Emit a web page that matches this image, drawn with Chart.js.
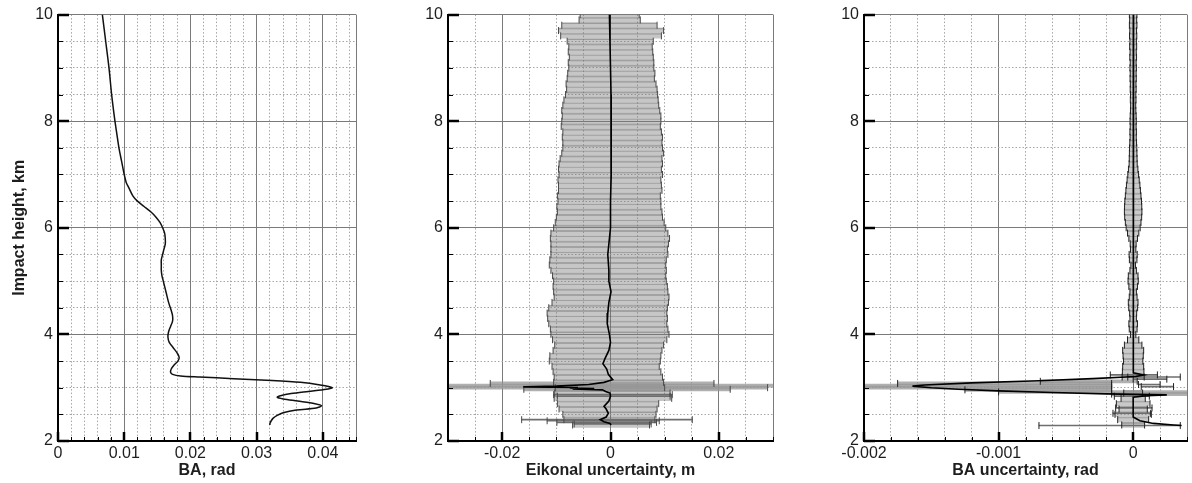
<!DOCTYPE html>
<html><head><meta charset="utf-8">
<script src="https://cdn.jsdelivr.net/npm/chart.js@4.4.1/dist/chart.umd.min.js"></script>
<style>
html,body{margin:0;padding:0;background:#fff;}
#wrap{position:relative;width:1192px;height:483px;overflow:hidden;background:#fff;}
canvas{position:absolute;top:0;}
</style></head><body>
<div id="wrap">
<canvas id="c1" width="370" height="483" style="left:0px"></canvas>
<canvas id="c2" width="410" height="483" style="left:370px"></canvas>
<canvas id="c3" width="412" height="483" style="left:780px"></canvas>
</div>
<script>
// ---------- Panel 1: bending angle profile ----------
const baH = [10.0, 9.5, 9.0, 8.5, 8.0, 7.75, 7.5, 7.25, 7.0, 6.85, 6.75, 6.6, 6.5, 6.4, 6.3, 6.2, 6.1, 6.0, 5.9, 5.8, 5.7, 5.6, 5.5, 5.4, 5.3, 5.2, 5.1, 5.0, 4.8, 4.6, 4.45, 4.35, 4.25, 4.15, 4.05, 3.95, 3.85, 3.75, 3.65, 3.57, 3.5, 3.42, 3.35, 3.29, 3.25, 3.22, 3.20, 3.17, 3.14, 3.10, 3.05, 3.00, 2.97, 2.93, 2.89, 2.85, 2.82, 2.79, 2.75, 2.70, 2.66, 2.62, 2.58, 2.53, 2.48, 2.43, 2.38, 2.33, 2.30];
const baV = [0.0067, 0.0072, 0.0077, 0.0081, 0.0086, 0.0089, 0.0092, 0.0096, 0.0100, 0.0103, 0.0107, 0.0113, 0.0120, 0.0130, 0.0140, 0.0148, 0.0154, 0.0158, 0.0161, 0.0162, 0.0162, 0.0160, 0.0158, 0.0156, 0.0156, 0.0156, 0.0157, 0.0159, 0.0163, 0.0167, 0.0171, 0.0173, 0.0173, 0.0170, 0.0167, 0.0166, 0.0168, 0.0174, 0.0180, 0.0183, 0.0181, 0.0175, 0.0171, 0.0170, 0.0173, 0.0185, 0.0214, 0.0265, 0.0315, 0.0366, 0.0396, 0.0414, 0.0405, 0.0378, 0.0352, 0.0336, 0.0331, 0.0340, 0.0362, 0.0388, 0.0398, 0.0390, 0.0360, 0.0340, 0.0331, 0.0325, 0.0322, 0.0320, 0.0320];

// ---------- shared heights of the error-bar rows (km) ----------
const hgt = [10.0, 9.9, 9.8, 9.7, 9.6, 9.5, 9.4, 9.3, 9.2, 9.1,
  9.0, 8.9, 8.8, 8.7, 8.6, 8.5, 8.4, 8.3, 8.2, 8.1,
  8.0, 7.9, 7.8, 7.7, 7.6, 7.5, 7.4, 7.3, 7.2, 7.1,
  7.0, 6.9, 6.8, 6.7, 6.6, 6.5, 6.4, 6.3, 6.2, 6.1,
  6.0, 5.9, 5.8, 5.7, 5.6, 5.5, 5.4, 5.3, 5.2, 5.1,
  5.0, 4.9, 4.8, 4.7, 4.6, 4.5, 4.4, 4.3, 4.2, 4.1,
  4.0, 3.9, 3.8, 3.7, 3.6, 3.5, 3.4, 3.3, 3.2, 3.1,
  3.0, 2.9, 2.8, 2.7, 2.6, 2.5, 2.4, 2.3];

// ---------- Panel 2: eikonal uncertainty ----------
const p2Lo = [-0.0056, -0.0058, -0.0090, -0.0096, -0.0092, -0.0080, -0.0077, -0.0078, -0.0076, -0.0078,
  -0.0077, -0.0079, -0.0080, -0.0082, -0.0081, -0.0083, -0.0086, -0.0088, -0.0090, -0.0089,
  -0.0090, -0.0091, -0.0088, -0.0089, -0.0088, -0.0088, -0.0090, -0.0093, -0.0095, -0.0096,
  -0.0095, -0.0097, -0.0096, -0.0096, -0.0098, -0.0097, -0.0099, -0.0098, -0.0100, -0.0102,
  -0.0105, -0.0110, -0.0111, -0.0110, -0.0110, -0.0110, -0.0112, -0.0113, -0.0110, -0.0107,
  -0.0105, -0.0106, -0.0105, -0.0104, -0.0108, -0.0114, -0.0117, -0.0116, -0.0114, -0.0111,
  -0.0110, -0.0107, -0.0103, -0.0106, -0.0112, -0.0113, -0.0108, -0.0106, -0.0104, -0.0105,
  -0.0102, -0.0103, -0.0104, -0.0098, -0.0095, -0.0088, -0.0086, -0.0070];
const p2Hi = [0.0053, 0.0055, 0.0086, 0.0098, 0.0094, 0.0079, 0.0077, 0.0078, 0.0079, 0.0080,
  0.0080, 0.0082, 0.0081, 0.0084, 0.0086, 0.0087, 0.0088, 0.0089, 0.0091, 0.0093,
  0.0093, 0.0092, 0.0094, 0.0096, 0.0095, 0.0096, 0.0098, 0.0095, 0.0096, 0.0094,
  0.0096, 0.0093, 0.0094, 0.0095, 0.0092, 0.0093, 0.0093, 0.0095, 0.0096, 0.0099,
  0.0102, 0.0106, 0.0109, 0.0107, 0.0105, 0.0106, 0.0103, 0.0102, 0.0103, 0.0102,
  0.0103, 0.0105, 0.0106, 0.0108, 0.0107, 0.0105, 0.0104, 0.0105, 0.0104, 0.0106,
  0.0108, 0.0104, 0.0098, 0.0095, 0.0093, 0.0092, 0.0090, 0.0093, 0.0096, 0.0098,
  0.0100, 0.0110, 0.0113, 0.0089, 0.0086, 0.0084, 0.0082, 0.0072];
const p2WideH = [3.08, 3.04, 3.00, 2.97];
const p2WideLo = [-0.0222, -0.0300, -0.0300, -0.0160];
const p2WideHi = [0.0191, 0.0300, 0.0290, 0.0221];
const p2ThinH = [2.87, 2.84, 2.40, 2.38, 2.35, 2.32];
const p2ThinLo = [-0.0105, -0.0098, -0.0164, -0.0117, -0.0099, -0.0067];
const p2ThinHi = [0.0114, 0.0110, 0.0151, 0.0090, 0.0085, 0.0075];
const p2MeanH = [10.0, 9.5, 9.0, 8.5, 8.0, 7.5, 7.0, 6.5, 6.0, 5.7, 5.5, 5.2, 5.0, 4.8, 4.6, 4.4, 4.2, 4.0, 3.85, 3.7, 3.55, 3.45, 3.35, 3.25, 3.15, 3.10, 3.06, 3.03, 3.015, 3.005, 2.995, 2.985, 2.975, 2.96, 2.93, 2.90, 2.84, 2.75, 2.65, 2.60, 2.52, 2.45, 2.40, 2.36, 2.33, 2.30];
const p2MeanV = [-0.0002, -0.0001, 0.0000, 0.0001, 0.0002, 0.0001, 0.0001, 0.0000, 0.0000, -0.0003, -0.0005, -0.0003, -0.0003, 0.0001, -0.0003, -0.0005, -0.0006, -0.0002, 0.0000, -0.0003, -0.0010, -0.0014, -0.0007, -0.0004, 0.0004, -0.0012, -0.0040, -0.0100, -0.0161, -0.0060, -0.0075, -0.0030, -0.0070, -0.0015, -0.0009, -0.0001, 0.0000, -0.0003, -0.0012, -0.0008, -0.0004, -0.0008, -0.0019, -0.0012, -0.0001, 0.0001];

// ---------- Panel 3: BA uncertainty ----------
const p3Lo = [-0.000028, -0.000026, -0.000028, -0.000025, -0.000027, -0.000024, -0.000026, -0.000023, -0.000025, -0.000022,
  -0.000024, -0.000022, -0.000023, -0.000021, -0.000022, -0.000020, -0.000021, -0.000019, -0.000020, -0.000022,
  -0.000023, -0.000022, -0.000024, -0.000023, -0.000025, -0.000027, -0.000028, -0.000029, -0.000030, -0.000035,
  -0.000040, -0.000045, -0.000050, -0.000054, -0.000058, -0.000062, -0.000064, -0.000065, -0.000063, -0.000058,
  -0.000052, -0.000042, -0.000032, -0.000022, -0.000020, -0.000030, -0.000028, -0.000017, -0.000024, -0.000036,
  -0.000038, -0.000032, -0.000024, -0.000029, -0.000036, -0.000033, -0.000026, -0.000024, -0.000032, -0.000029,
  -0.000020, -0.000042, -0.000065, -0.000078, -0.000075, -0.000072, -0.000078, -0.000080, -0.000082, null,
  null, -0.000070, -0.000090, -0.000125, -0.000105, -0.000135, -0.000115, -0.000085];
const p3Hi = [0.000028, 0.000026, 0.000028, 0.000025, 0.000027, 0.000024, 0.000026, 0.000023, 0.000025, 0.000022,
  0.000024, 0.000022, 0.000023, 0.000021, 0.000022, 0.000020, 0.000021, 0.000019, 0.000020, 0.000022,
  0.000023, 0.000022, 0.000024, 0.000023, 0.000025, 0.000027, 0.000028, 0.000029, 0.000030, 0.000035,
  0.000040, 0.000045, 0.000050, 0.000054, 0.000058, 0.000062, 0.000064, 0.000065, 0.000063, 0.000058,
  0.000052, 0.000042, 0.000032, 0.000022, 0.000020, 0.000030, 0.000028, 0.000017, 0.000024, 0.000036,
  0.000038, 0.000032, 0.000024, 0.000029, 0.000036, 0.000033, 0.000026, 0.000024, 0.000032, 0.000029,
  0.000020, 0.000042, 0.000065, 0.000078, 0.000075, 0.000072, 0.000078, 0.000080, 0.000082, null,
  null, 0.000070, 0.000090, 0.000125, 0.000105, 0.000135, 0.000115, 0.000085];
const p3WideH = [3.12, 3.08, 3.04, 3.00, 2.96, 2.92, 2.88];
const p3WideLo = [-0.00069, -0.00175, -0.00200, -0.00200, -0.00125, -0.00100, -0.00016];
const p3WideHi = [0.00003, -0.00016, -0.00016, -0.00016, -0.00016, 0.00040, 0.00040];
const p3ThinH = [3.24, 3.20, 3.16, 3.06, 3.02, 2.84, 2.62, 2.52, 2.29];
const p3ThinLo = [-0.00017, -0.00004, 0.00000, 0.00004, 0.00006, -0.00014, -0.00013, -0.00015, -0.00070];
const p3ThinHi = [0.00018, 0.00035, 0.00025, 0.00020, 0.00030, 0.00012, 0.00014, 0.00013, 0.00035];
const p3MeanH = [10.0, 9.0, 8.0, 7.0, 6.0, 5.0, 4.0, 3.5, 3.28, 3.24, 3.21, 3.17, 3.13, 3.09, 3.05, 3.03, 3.0, 2.97, 2.94, 2.91, 2.885, 2.865, 2.85, 2.82, 2.7, 2.55, 2.45, 2.38, 2.33, 2.30, 2.29];
const p3MeanV = [0.000003, 0.0, 0.000003, 0.0, 0.000003, 0.0, 0.000003, 0.0, 0.0, 0.00008, 0.00002, -0.0003, -0.0007, -0.0012, -0.00155, -0.00164, -0.0015, -0.0013, -0.0010, -0.0006, -0.0002, 0.00025, 0.0001, 0.0, 0.0, 0.0, 0.0, 0.00005, 0.00015, 0.0003, 0.00036];

// ---------- tick labels ----------
const yMajor = [2, 4, 6, 8, 10];
const yLabels = ['2', '4', '6', '8', '10'];
const x1Major = [0, 0.01, 0.02, 0.03, 0.04];
const x1Labels = ['0', '0.01', '0.02', '0.03', '0.04'];
const x2Major = [-0.02, 0, 0.02];
const x2Labels = ['-0.02', '0', '0.02'];
const x3Major = [-0.002, -0.001, 0];
const x3Labels = ['-0.002', '-0.001', '0'];

// ---------- helpers ----------
const FONT = "'Liberation Sans', Arial, Helvetica, sans-serif";
const TXT = '#1e1e1e';
function near(v, arr) { return arr.findIndex(t => Math.abs(v - t) < 1e-9); }
function makeTicks(min, max, step) {
  const out = [];
  for (let i = 0; ; i++) {
    const v = +(min + i * step).toFixed(10);
    if (v > max + 1e-12) break;
    out.push({ value: v });
  }
  if (Math.abs(out[out.length - 1].value - max) > 1e-12) out.push({ value: max });
  return out;
}
function gridStyle(min, max, majors) {
  const solid = c => c.tick && (near(c.tick.value, majors) >= 0 || Math.abs(c.tick.value - max) < 1e-12 || Math.abs(c.tick.value - min) < 1e-12);
  return {
    color: c => solid(c) ? '#7a7a7a' : '#a6a6a6',
    dash: c => (!c.tick || solid(c)) ? [] : [1.5, 2]
  };
}
function xAxis(min, max, step, majors, labels, title) {
  const g = gridStyle(min, max, majors);
  return {
    type: 'linear', position: 'bottom', min, max, stacked: false, offset: false,
    afterBuildTicks: s => { s.ticks = makeTicks(min, max, step); },
    afterFit: s => { s.height = 42; },
    grid: { drawTicks: false, color: g.color, lineWidth: 1, offset: false },
    border: { display: true, color: '#000', width: 2, z: 1, dash: g.dash },
    ticks: { autoSkip: false, maxRotation: 0, minRotation: 0, padding: 3, color: TXT, font: { family: FONT, size: 16 },
      callback: v => { const i = near(v, majors); return i >= 0 ? labels[i] : ''; } },
    title: { display: true, text: title, color: TXT, font: { family: FONT, size: 16, weight: 'bold' }, padding: { top: 0, bottom: 3 } }
  };
}
function yAxis(width, title) {
  const g = gridStyle(2, 10, yMajor);
  return {
    type: 'linear', position: 'left', min: 2, max: 10, offset: false,
    afterBuildTicks: s => { s.ticks = makeTicks(2, 10, 0.5); },
    afterFit: s => { s.width = width; },
    grid: { drawTicks: false, color: g.color, lineWidth: 1, offset: false },
    border: { display: true, color: '#000', width: 2, z: 1, dash: g.dash },
    ticks: { autoSkip: false, padding: 5, color: TXT, font: { family: FONT, size: 16 },
      callback: v => { const i = near(v, yMajor); return i >= 0 ? yLabels[i] : ''; } },
    title: { display: !!title, text: title || '', color: TXT, font: { family: FONT, size: 16, weight: 'bold' }, padding: { top: 10, bottom: 0 } }
  };
}
function inwardTicks(xMaj) {
  return {
    id: 'inwardTicks',
    afterDraw(chart) {
      const { ctx, chartArea: a } = chart;
      const xs = chart.scales.x, ys = chart.scales.y;
      ctx.save();
      ctx.strokeStyle = '#000';
      ctx.lineCap = 'butt';
      xs.ticks.forEach(t => {
        const major = near(t.value, xMaj) >= 0;
        const px = Math.round(xs.getPixelForValue(t.value)) + (major ? 0 : 0.5);
        ctx.lineWidth = major ? 2.5 : 1;
        ctx.beginPath(); ctx.moveTo(px, a.bottom); ctx.lineTo(px, a.bottom - (major ? 9 : 4)); ctx.stroke();
      });
      ys.ticks.forEach(t => {
        const major = near(t.value, yMajor) >= 0;
        const py = Math.round(ys.getPixelForValue(t.value)) + (major ? 0 : 0.5);
        ctx.lineWidth = major ? 2.5 : 1;
        ctx.beginPath(); ctx.moveTo(a.left, py); ctx.lineTo(a.left + (major ? 11 : 5), py); ctx.stroke();
      });
      ctx.restore();
    }
  };
}
function baseOptions(x, yWidth, yTitle, padRight) {
  return {
    responsive: false, animation: false, events: [], devicePixelRatio: 1,
    layout: { padding: { top: 14, right: padRight, left: 0, bottom: 0 } },
    plugins: { legend: { display: false }, tooltip: { enabled: false } },
    scales: { x: x, y: yAxis(yWidth, yTitle) }
  };
}
function barRows(h, lo, hi) {
  const d = [];
  for (let i = 0; i < h.length; i++) { if (lo[i] == null) continue; d.push({ y: h[i], x: [lo[i], hi[i]] }); }
  return d;
}
function capPoints(h, lo, hi, min, max) {
  const d = [];
  for (let i = 0; i < h.length; i++) {
    if (lo[i] == null) continue;
    if (lo[i] > min + 1e-12) d.push({ x: lo[i], y: h[i] });
    if (hi[i] < max - 1e-12) d.push({ x: hi[i], y: h[i] });
  }
  return d;
}
function line(hs, vs) { return hs.map((h, i) => ({ x: vs[i], y: h })); }

function errorPanel(id, cfg) {
  const { lo, hi, wH, wLo, wHi, tH, tLo, tHi, mH, mV, min, max, fill, capColor, x, yWidth, padRight, xMaj } = cfg;
  new Chart(document.getElementById(id), {
    type: 'scatter',
    data: { datasets: [
      { type: 'line', data: line(mH, mV), showLine: true, borderColor: '#000', borderWidth: 1.6, pointRadius: 0, tension: 0, fill: false, order: 0 },
      { type: 'scatter', data: capPoints(hgt, lo, hi, min, max).concat(capPoints(wH, wLo, wHi, min, max), capPoints(tH, tLo, tHi, min, max)),
        pointStyle: 'line', pointRotation: 90, pointRadius: 3.5, pointBorderColor: capColor, pointBorderWidth: 1, showLine: false, order: 1 },
      { type: 'bar', indexAxis: 'y', stack: 's', data: barRows(tH, tLo, tHi), backgroundColor: '#6e6e6e', borderWidth: 0, barThickness: 1, order: 2 },
      { type: 'bar', indexAxis: 'y', stack: 's', data: barRows(wH, wLo, wHi), backgroundColor: 'rgba(150,150,150,0.75)', borderWidth: 0, barThickness: 3, order: 3 },
      { type: 'bar', indexAxis: 'y', stack: 's', data: barRows(hgt, lo, hi), backgroundColor: fill, borderColor: 'rgba(105,105,105,0.55)',
        borderWidth: { top: 1, right: 0, bottom: 0, left: 0 }, borderSkipped: false, barThickness: 5.4, order: 4 }
    ] },
    options: baseOptions(x, yWidth, null, padRight),
    plugins: [inwardTicks(xMaj)]
  });
}

// ---------- Chart 1 ----------
new Chart(document.getElementById('c1'), {
  type: 'scatter',
  data: { datasets: [{ data: line(baH, baV), showLine: true, borderColor: '#111', borderWidth: 1.5, pointRadius: 0, tension: 0.3, fill: false }] },
  options: baseOptions(xAxis(0, 0.045, 0.002, x1Major, x1Labels, 'BA, rad'), 58, 'Impact height, km', 14),
  plugins: [inwardTicks(x1Major)]
});

// ---------- Chart 2 ----------
errorPanel('c2', { lo: p2Lo, hi: p2Hi, wH: p2WideH, wLo: p2WideLo, wHi: p2WideHi, tH: p2ThinH, tLo: p2ThinLo, tHi: p2ThinHi,
  mH: p2MeanH, mV: p2MeanV, min: -0.03, max: 0.03, fill: 'rgba(120,120,120,0.42)', capColor: '#4a4a4a',
  x: xAxis(-0.03, 0.03, 0.005, x2Major, x2Labels, 'Eikonal uncertainty, m'), yWidth: 78, padRight: 7, xMaj: x2Major });

// ---------- Chart 3 ----------
errorPanel('c3', { lo: p3Lo, hi: p3Hi, wH: p3WideH, wLo: p3WideLo, wHi: p3WideHi, tH: p3ThinH, tLo: p3ThinLo, tHi: p3ThinHi,
  mH: p3MeanH, mV: p3MeanV, min: -0.002, max: 0.0004, fill: 'rgba(120,120,120,0.40)', capColor: '#222',
  x: xAxis(-0.002, 0.0004, 0.0002, x3Major, x3Labels, 'BA uncertainty, rad'), yWidth: 84, padRight: 4, xMaj: x3Major });
</script>
</body></html>
